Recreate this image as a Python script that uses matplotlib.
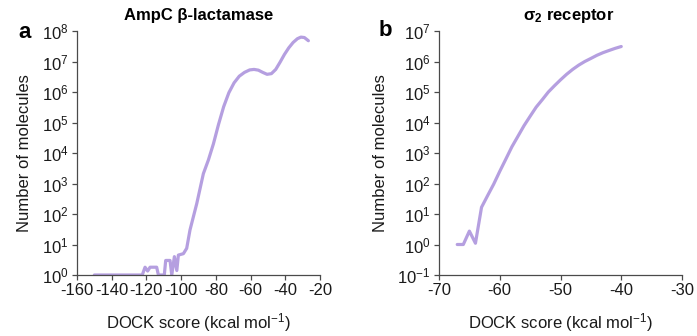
import matplotlib
matplotlib.use("Agg")
import matplotlib.pyplot as plt
from matplotlib.ticker import NullLocator, FixedLocator

plt.rcParams['font.family'] = ['Liberation Sans', 'DejaVu Sans']
plt.rcParams['mathtext.fontset'] = 'custom'
plt.rcParams['mathtext.rm'] = 'Liberation Sans'
plt.rcParams['mathtext.it'] = 'Liberation Sans:italic'
plt.rcParams['mathtext.bf'] = 'Liberation Sans:bold'
plt.rcParams['axes.unicode_minus'] = False

# Panel a: AmpC beta-lactamase
ampc_score = [-150, -122.4, -120.8, -119.3, -117.9, -114.1, -113.1, -109.7, -108.9,
              -106.4, -105.4, -103.9, -102.5, -101.6, -98.7, -96.8, -94.9,
              -91.0, -87.2, -84.3, -81.4, -78.5, -75.5, -72.5, -69.5, -66.5, -63.5,
              -60.5, -58.0, -55.5, -53.0, -50.5, -48.0, -45.5, -43.0, -40.5, -38.0,
              -35.5, -33.0, -31.0, -29.0, -26.7]
ampc_count = [1, 1, 1.8, 1.35, 1.8, 1.8, 1, 1, 3, 3, 1, 4, 1.4, 4.5, 5, 7.5, 30,
              2.2e2, 2.1e3, 5.9e3, 2.0e4, 8.5e4, 3.3e5, 9.5e5, 2.0e6, 3.3e6, 4.4e6,
              5.3e6, 5.5e6, 5.2e6, 4.4e6, 3.8e6, 4.0e6, 5.5e6, 9.5e6, 1.7e7, 2.8e7,
              4.2e7, 5.6e7, 6.3e7, 6.1e7, 4.8e7]

# Panel b: sigma2 receptor
sig_score = [-67, -66, -65, -64, -63, -62, -61, -60, -59, -58, -57, -56, -55, -54,
             -53, -52, -51, -50, -49, -48, -47, -46, -45, -44, -43, -42, -41, -40]
sig_count = [1, 1, 2.75, 1.1, 16.6, 40, 95, 250, 630, 1600, 3550, 7900, 1.6e4, 3.2e4,
             5.6e4, 1.0e5, 1.6e5, 2.5e5, 3.8e5, 5.5e5, 7.6e5, 1.0e6, 1.26e6, 1.6e6,
             1.95e6, 2.3e6, 2.7e6, 3.1e6]

line_color = '#b59fe0'
spine_color = '#4a4a4a'
FS = 12

fig = plt.figure(figsize=(6.97, 3.36), dpi=100)
ax1 = fig.add_axes([77/697, 1-275/336, (320-77)/697, (275-31)/336])
ax2 = fig.add_axes([439/697, 1-275/336, (682-439)/697, (275-31)/336])

def style(ax, yticks):
    ax.set_yscale('log')
    ax.yaxis.set_major_locator(FixedLocator(yticks))
    ax.yaxis.set_minor_locator(NullLocator())
    for s in ['top', 'right']:
        ax.spines[s].set_visible(False)
    for s in ['left', 'bottom']:
        ax.spines[s].set_color(spine_color)
        ax.spines[s].set_linewidth(0.9)
    ax.tick_params(axis='both', which='major', direction='out', length=3.5, width=0.9,
                   color=spine_color, labelsize=12, pad=2.5, labelcolor='#1a1a1a')
    ax.set_ylabel('Number of molecules', fontsize=FS, color='#1a1a1a', labelpad=7)
    ax.set_xlabel('DOCK score (kcal mol$^{-1}$)', fontsize=FS, color='#1a1a1a', labelpad=9)

ax1.plot(ampc_score, ampc_count, color=line_color, lw=2.3, solid_joinstyle='round',
         solid_capstyle='round')
style(ax1, [10.0**k for k in range(0, 9)])
ax1.set_xlim(-160, -20)
ax1.set_ylim(1, 1e8)
ax1.set_xticks(range(-160, -19, 20))
ax1.set_title('AmpC β-lactamase', fontsize=FS, fontweight='bold', pad=8)

ax2.plot(sig_score, sig_count, color=line_color, lw=2.3, solid_joinstyle='round',
         solid_capstyle='round')
style(ax2, [10.0**k for k in range(-1, 8)])
ax2.set_xlim(-70, -30)
ax2.set_ylim(0.1, 1e7)
ax2.set_xticks(range(-70, -29, 10))
ax2.set_title(r'σ$_{\mathbf{2}}$ receptor', fontsize=FS, fontweight='bold', pad=8, x=0.535)

fig.text(25/697, 1-32/336, 'a', fontsize=16, fontweight='bold', ha='center', va='center')
fig.text(385/697, 1-31/336, 'b', fontsize=16, fontweight='bold', ha='center', va='center')

fig.savefig('out.png', dpi=100)
